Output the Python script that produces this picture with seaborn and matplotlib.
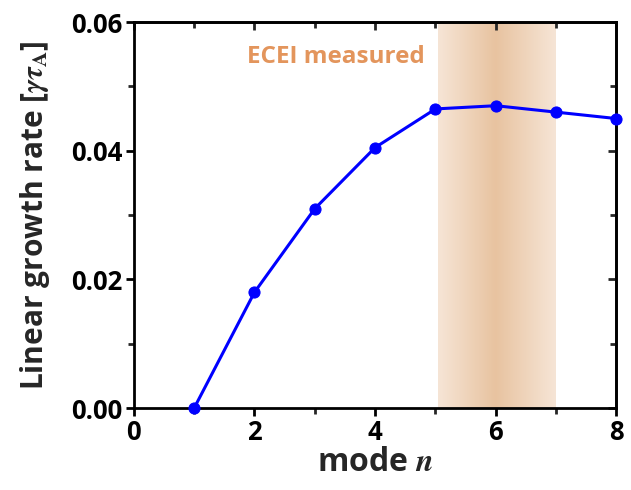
import numpy as np
import pandas as pd
import matplotlib
matplotlib.use("Agg")
import matplotlib.pyplot as plt
from matplotlib.colors import LinearSegmentedColormap
from matplotlib.ticker import MultipleLocator, FormatStrFormatter
import seaborn as sns

# Toroidal mode numbers and their linear growth rates
mode_n = [1, 2, 3, 4, 5, 6, 7, 8]
growth_rate = [0.0, 0.018, 0.031, 0.0405, 0.0465, 0.047, 0.046, 0.045]

# Mode range covered by ECEI measurements
band_lo, band_hi, band_peak = 5.05, 7.0, 6.0
band_label = "ECEI measured"

sns.set_theme(style="ticks")
plt.rcParams["font.family"] = ["Open Sans", "DejaVu Sans"]
plt.rcParams["font.weight"] = "bold"
plt.rcParams["mathtext.fontset"] = "stix"

df = pd.DataFrame({"n": mode_n, "rate": growth_rate})

fig = plt.figure(figsize=(6.31, 4.90), dpi=100)
ax = fig.add_axes([0.212, 0.167, 0.765, 0.788])

# Shaded band with a horizontal gradient, darkest at the peak mode
cmap = LinearSegmentedColormap.from_list(
    "band", ["#F6E5D6", "#E8C3A0", "#F6E5D6"])
xs = np.linspace(band_lo, band_hi, 300)
frac = np.where(xs <= band_peak,
                (xs - band_lo) / (band_peak - band_lo) * 0.5,
                0.5 + (xs - band_peak) / (band_hi - band_peak) * 0.5)
ax.imshow(frac[np.newaxis, :], extent=[band_lo, band_hi, 0, 0.06],
          aspect="auto", cmap=cmap, vmin=0, vmax=1, zorder=0,
          interpolation="bilinear")

sns.lineplot(data=df, x="n", y="rate", ax=ax, color="#0000FF",
             linewidth=2.2, marker="o", markersize=8,
             markeredgecolor="#0000FF", zorder=3, clip_on=False)

ax.text(4.83, 0.0546, band_label, color="#E3955C", fontsize=17.5,
        fontweight="bold", ha="right", va="center")

ax.set_xlim(0, 8)
ax.set_ylim(0, 0.06)
ax.xaxis.set_major_locator(MultipleLocator(2))
ax.xaxis.set_minor_locator(MultipleLocator(1))
ax.yaxis.set_major_locator(MultipleLocator(0.02))
ax.yaxis.set_minor_locator(MultipleLocator(0.01))
ax.yaxis.set_major_formatter(FormatStrFormatter("%.2f"))

for side in ["left", "bottom", "top", "right"]:
    ax.spines[side].set_visible(True)
    ax.spines[side].set_linewidth(2.0)
    ax.spines[side].set_color("black")

ax.tick_params(which="major", direction="out", length=6, width=2,
               labelsize=18.5, pad=2, colors="black")
ax.tick_params(which="minor", direction="out", length=4, width=2)
# inward ticks on the top and right frame
ax2 = ax.secondary_xaxis("top")
ax2.xaxis.set_major_locator(MultipleLocator(2))
ax2.xaxis.set_minor_locator(MultipleLocator(1))
ax2.tick_params(which="major", direction="in", length=6, width=2,
                labeltop=False)
ax2.tick_params(which="minor", direction="in", length=4, width=2)
ax2.spines["top"].set_linewidth(2.0)
ay2 = ax.secondary_yaxis("right")
ay2.yaxis.set_major_locator(MultipleLocator(0.02))
ay2.yaxis.set_minor_locator(MultipleLocator(0.01))
ay2.tick_params(which="major", direction="in", length=6, width=2,
                labelright=False)
ay2.tick_params(which="minor", direction="in", length=4, width=2)
ay2.spines["right"].set_linewidth(2.0)

for lab in ax.get_xticklabels() + ax.get_yticklabels():
    lab.set_fontweight("bold")

ax.set_xlabel(r"mode $\boldsymbol{n}$", fontsize=23, fontweight="bold",
              labelpad=0)
ax.set_ylabel(r"Linear growth rate [$\boldsymbol{\gamma\tau}_{\mathrm{\mathbf{A}}}$]",
              fontsize=21.5, fontweight="bold", labelpad=14)

fig.savefig("out.png", dpi=100)
